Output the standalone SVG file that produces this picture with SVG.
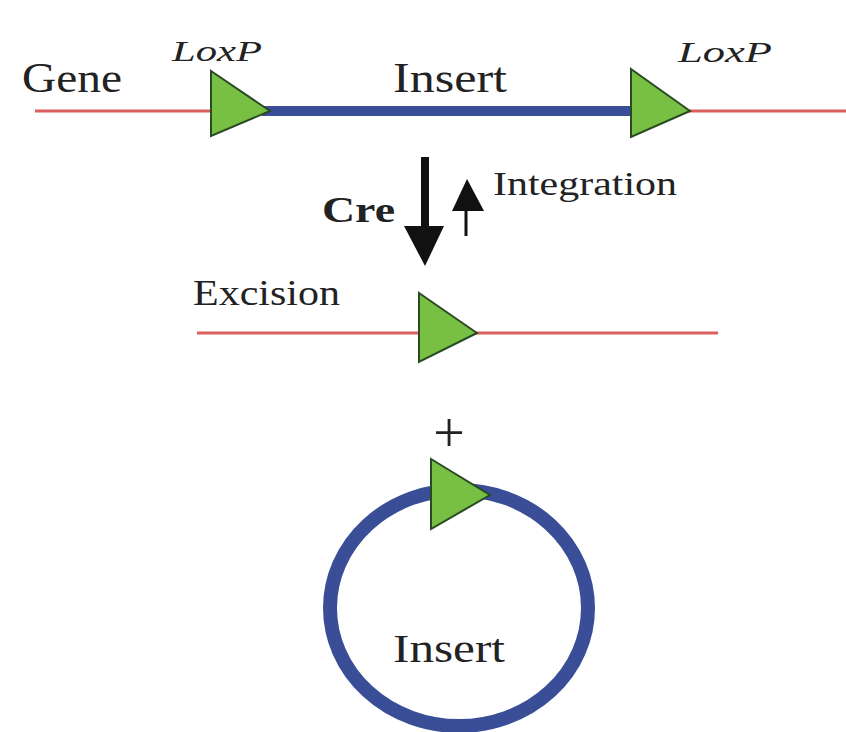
<svg xmlns="http://www.w3.org/2000/svg" width="846" height="732" viewBox="0 0 846 732">
<style>
text{font-family:"Liberation Serif","DejaVu Serif",serif;fill:#222}
.lbl{font-size:42px}
.lox{font-size:30px;font-style:italic}
.red{stroke:#d9605e;stroke-width:3;fill:none}
.blue{stroke:#3a4e98;fill:none}
.tri{fill:#78c043;stroke:#2a4a22;stroke-width:2;stroke-linejoin:miter}
</style>
<rect width="846" height="732" fill="#fff"/>
<g id="top-construct" font-family="Liberation Serif, serif">
<line class="red" x1="35" y1="111" x2="846" y2="111"/>
<line class="blue" x1="262" y1="111" x2="632" y2="111" stroke-width="10"/>
<polygon class="tri" points="211,71 270,111 211,136"/>
<polygon class="tri" points="631,69 690,111 631,137"/>
<text class="lbl" x="22" y="92" textLength="100" lengthAdjust="spacingAndGlyphs">Gene</text>
<text class="lox" x="172" y="61" textLength="90" lengthAdjust="spacingAndGlyphs">LoxP</text>
<text class="lbl" x="393" y="92" textLength="114" lengthAdjust="spacingAndGlyphs">Insert</text>
<text class="lox" x="678" y="62" textLength="94" lengthAdjust="spacingAndGlyphs">LoxP</text>
</g>
<g id="connectors">
<line x1="425" y1="157" x2="425" y2="228" stroke="#111" stroke-width="8"/>
<polygon points="404,226 444,226 425,266" fill="#111"/>
<line x1="466" y1="236" x2="466" y2="205" stroke="#111" stroke-width="3"/>
<polygon points="452,211 484,211 467,179" fill="#111"/>
<text x="322" y="222" font-size="36" font-weight="bold" textLength="73" lengthAdjust="spacingAndGlyphs">Cre</text>
<text x="493" y="195" font-size="33" textLength="184" lengthAdjust="spacingAndGlyphs">Integration</text>
</g>
<g id="excised-locus">
<line class="red" x1="197" y1="333" x2="718" y2="333"/>
<polygon class="tri" points="419,293 477,333 419,362"/>
<text x="193" y="305" font-size="35" textLength="147" lengthAdjust="spacingAndGlyphs">Excision</text>
</g>
<g id="circle-insert">
<text x="449" y="452" font-size="56" text-anchor="middle">+</text>
<ellipse class="blue" cx="459" cy="608" rx="129" ry="118" stroke-width="14"/>
<polygon class="tri" points="431,459 490,495 431,529"/>
<text x="393" y="662" font-size="41" textLength="112" lengthAdjust="spacingAndGlyphs">Insert</text>
</g>
</svg>
